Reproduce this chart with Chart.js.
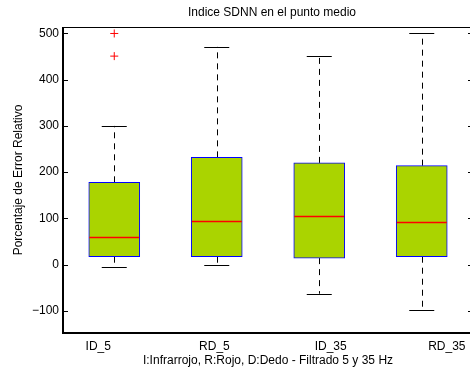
<!DOCTYPE html>
<html>
<head>
<meta charset="utf-8">
<script src="https://cdn.jsdelivr.net/npm/chart.js@4"></script>
<style>
  body { margin: 0; background: #fff; overflow: hidden; }
  canvas { display: block; }
</style>
</head>
<body>
<canvas id="boxChart" width="478" height="374"></canvas>
<script>
const labels = ["ID_5", "RD_5", "ID_35", "RD_35"];
const lowerWhisker = [-6, -1, -63, -99];
const q1 = [17, 17, 14, 17];
const median = [60, 94, 105, 92];
const q3 = [178, 232, 220, 214];
const upperWhisker = [300, 471, 451, 500];
const outliers = [
  { x: "ID_5", y: 500 },
  { x: "ID_5", y: 451 }
];
const yTicks = [-100, 0, 100, 200, 300, 400, 500];

const FONT = "'Liberation Sans', Arial, sans-serif";

const boxPlugin = {
  id: "boxParts",
  beforeDatasetsDraw(chart) {
    const ctx = chart.ctx;
    const x = chart.scales.x, y = chart.scales.y;
    ctx.save();
    ctx.strokeStyle = "#000";
    ctx.lineWidth = 1;
    ctx.setLineDash([6, 5]);
    labels.forEach((l, i) => {
      const cx = Math.round(x.getPixelForValue(i)) + 0.5;
      ctx.beginPath();
      ctx.moveTo(cx, y.getPixelForValue(q3[i]));
      ctx.lineTo(cx, y.getPixelForValue(upperWhisker[i]));
      ctx.moveTo(cx, y.getPixelForValue(q1[i]));
      ctx.lineTo(cx, y.getPixelForValue(lowerWhisker[i]));
      ctx.stroke();
    });
    ctx.restore();
  },
  afterDatasetsDraw(chart) {
    const ctx = chart.ctx;
    const x = chart.scales.x, y = chart.scales.y;
    ctx.save();
    labels.forEach((l, i) => {
      const cx = x.getPixelForValue(i);
      // caps
      ctx.strokeStyle = "#000";
      ctx.lineWidth = 1;
      ctx.beginPath();
      [upperWhisker[i], lowerWhisker[i]].forEach(v => {
        const py = Math.round(y.getPixelForValue(v)) + 0.5;
        ctx.moveTo(cx - 12.5, py);
        ctx.lineTo(cx + 12.5, py);
      });
      ctx.stroke();
      // median
      ctx.strokeStyle = "#ff0000";
      ctx.lineWidth = 1.3;
      ctx.beginPath();
      const my = Math.round(y.getPixelForValue(median[i])) + 0.5;
      ctx.moveTo(cx - 25, my);
      ctx.lineTo(cx + 25, my);
      ctx.stroke();
    });
    ctx.restore();
  },
  afterDraw(chart) {
    const ctx = chart.ctx;
    const a = chart.chartArea;
    const x = chart.scales.x, y = chart.scales.y;
    ctx.save();
    // axes box
    ctx.strokeStyle = "#000";
    ctx.lineWidth = 1;
    ctx.strokeRect(a.left + 0.5, a.top + 0.5, a.right - a.left, a.bottom - a.top);
    ctx.lineWidth = 2;
    ctx.beginPath();
    ctx.moveTo(a.left, a.top);
    ctx.lineTo(a.left, a.bottom);
    ctx.lineTo(a.right, a.bottom);
    ctx.stroke();
    // inward ticks
    ctx.lineWidth = 1;
    ctx.beginPath();
    yTicks.forEach(v => {
      const py = Math.round(y.getPixelForValue(v)) + 0.5;
      ctx.moveTo(a.left, py);
      ctx.lineTo(a.left + 5, py);
      ctx.moveTo(a.right, py);
      ctx.lineTo(a.right - 5, py);
    });
    ctx.stroke();
    // title
    ctx.fillStyle = "#000";
    ctx.font = "12px " + FONT;
    ctx.textAlign = "center";
    ctx.textBaseline = "middle";
    ctx.fillText("Indice SDNN en el punto medio", (a.left + a.right) / 2 + 4, 13);
    // category labels (matlab spreads them wider than the boxes)
    labels.forEach((l, i) => {
      const px = x.getPixelForValue(i) - 16 + i * 13.7;
      ctx.fillText(l, px, 347);
    });
    ctx.restore();
  }
};

new Chart(document.getElementById("boxChart"), {
  type: "bar",
  data: {
    labels: labels,
    datasets: [
      {
        type: "bar",
        data: q1.map((v, i) => [v, q3[i]]),
        backgroundColor: "#aad400",
        borderColor: "#0000ff",
        borderWidth: 1,
        borderSkipped: false,
        barThickness: 51
      },
      {
        type: "line",
        data: outliers,
        showLine: false,
        pointStyle: "cross",
        pointRadius: 4,
        pointBorderWidth: 1,
        borderColor: "#ff0000",
        backgroundColor: "#ff0000"
      }
    ]
  },
  options: {
    responsive: false,
    animation: false,
    layout: { padding: { top: 27, right: 0, left: 0, bottom: 0 } },
    plugins: {
      legend: { display: false },
      tooltip: { enabled: false },
      title: { display: false }
    },
    scales: {
      x: {
        grid: { display: false, drawTicks: false },
        border: { display: false },
        ticks: { display: false },
        title: {
          display: true,
          text: "I:Infrarrojo, R:Rojo, D:Dedo - Filtrado 5 y 35 Hz",
          color: "#000",
          font: { family: FONT, size: 12 },
          padding: { top: 0, bottom: 6 }
        },
        afterFit(s) { s.height = 41; }
      },
      y: {
        min: -148,
        max: 514,
        grid: { display: false, drawTicks: false },
        border: { display: false },
        afterBuildTicks(s) { s.ticks = yTicks.map(v => ({ value: v })); },
        ticks: {
          color: "#000",
          padding: 4,
          font: { family: FONT, size: 12 },
          callback: v => String(v).replace("-", "\u2212")
        },
        title: {
          display: true,
          text: "Porcentaje de Error Relativo",
          color: "#000",
          font: { family: FONT, size: 12 },
          padding: { top: 11, bottom: 0 }
        },
        afterFit(s) { s.width = 63; }
      }
    }
  },
  plugins: [boxPlugin]
});
</script>
</body>
</html>
